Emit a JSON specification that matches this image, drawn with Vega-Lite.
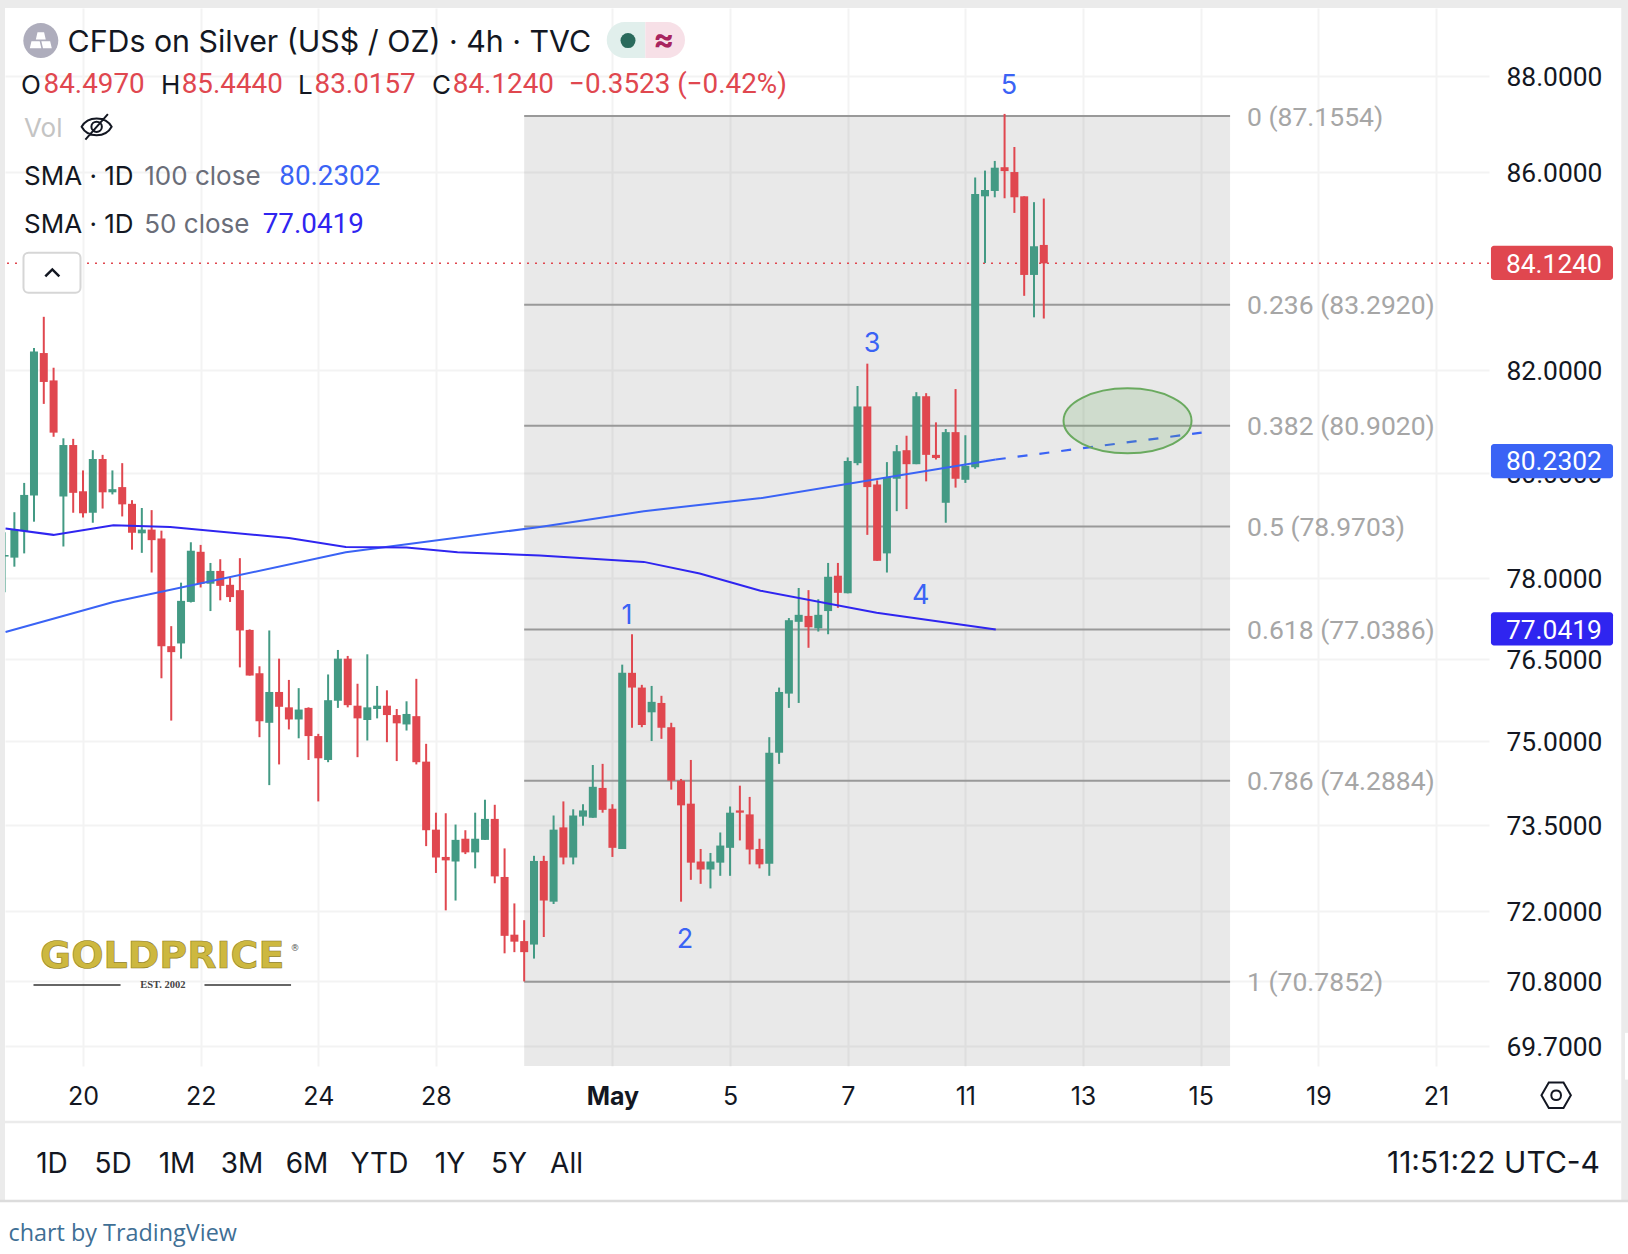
{
"$schema":"https://vega.github.io/schema/vega-lite/v6.json",
"width":1484,"height":1058,"autosize":{"type":"none"},
"padding":{"left":5,"top":8,"right":139,"bottom":188},
"background":"#ffffff",
"view":{"stroke":null},
"resolve":{"axis":{"x":"independent","y":"independent"}},
"datasets":{
"candles":[
{"i":0,"o":78.40,"h":78.86,"l":77.73,"c":78.43},{"i":1,"o":78.38,"h":79.24,"l":78.21,"c":78.91},{"i":2,"o":78.88,"h":79.80,"l":78.46,"c":79.57},{"i":3,"o":79.56,"h":82.43,"l":79.06,"c":82.36},{"i":4,"o":82.33,"h":83.05,"l":81.33,"c":81.76},{"i":5,"o":81.79,"h":82.04,"l":80.69,"c":80.77},{"i":6,"o":79.54,"h":80.66,"l":78.59,"c":80.53},{"i":7,"o":80.53,"h":80.65,"l":79.23,"c":79.61},{"i":8,"o":79.64,"h":80.04,"l":79.14,"c":79.22},{"i":9,"o":79.23,"h":80.43,"l":79.04,"c":80.26},
{"i":10,"o":80.26,"h":80.34,"l":79.31,"c":79.62},{"i":11,"o":79.62,"h":80.04,"l":79.58,"c":79.68},{"i":12,"o":79.72,"h":80.18,"l":79.16,"c":79.39},{"i":13,"o":79.40,"h":79.47,"l":78.53,"c":78.85},{"i":14,"o":78.84,"h":79.32,"l":78.47,"c":78.91},{"i":15,"o":78.91,"h":79.28,"l":78.10,"c":78.71},{"i":16,"o":78.74,"h":78.89,"l":76.14,"c":76.73},{"i":17,"o":76.73,"h":77.10,"l":75.37,"c":76.62},{"i":18,"o":76.78,"h":77.91,"l":76.50,"c":77.57},{"i":19,"o":77.55,"h":78.67,"l":77.54,"c":78.51},
{"i":20,"o":78.49,"h":78.62,"l":77.82,"c":77.89},{"i":21,"o":77.89,"h":78.28,"l":77.38,"c":78.13},{"i":22,"o":78.13,"h":78.35,"l":77.58,"c":77.85},{"i":23,"o":77.87,"h":78.00,"l":77.55,"c":77.64},{"i":24,"o":77.77,"h":78.37,"l":76.34,"c":77.02},{"i":25,"o":77.03,"h":77.04,"l":76.19,"c":76.19},{"i":26,"o":76.23,"h":76.36,"l":75.07,"c":75.36},{"i":27,"o":75.33,"h":77.02,"l":74.21,"c":75.89},{"i":28,"o":75.89,"h":76.50,"l":74.58,"c":75.62},{"i":29,"o":75.61,"h":76.11,"l":75.21,"c":75.39},
{"i":30,"o":75.39,"h":75.96,"l":75.05,"c":75.57},{"i":31,"o":75.60,"h":75.61,"l":74.66,"c":75.09},{"i":32,"o":75.09,"h":75.13,"l":73.92,"c":74.69},{"i":33,"o":74.66,"h":76.21,"l":74.62,"c":75.74},{"i":34,"o":75.73,"h":76.66,"l":75.60,"c":76.50},{"i":35,"o":76.50,"h":76.55,"l":75.61,"c":75.65},{"i":36,"o":75.64,"h":76.04,"l":74.71,"c":75.41},{"i":37,"o":75.38,"h":76.58,"l":75.01,"c":75.61},{"i":38,"o":75.58,"h":76.00,"l":75.41,"c":75.64},{"i":39,"o":75.64,"h":75.92,"l":74.98,"c":75.47},
{"i":40,"o":75.47,"h":75.58,"l":74.64,"c":75.32},{"i":41,"o":75.30,"h":75.72,"l":75.19,"c":75.49},{"i":42,"o":75.45,"h":76.13,"l":74.58,"c":74.62},{"i":43,"o":74.63,"h":74.95,"l":73.13,"c":73.41},{"i":44,"o":73.42,"h":73.72,"l":72.66,"c":72.93},{"i":45,"o":72.94,"h":73.71,"l":72.01,"c":72.88},{"i":46,"o":72.86,"h":73.51,"l":72.18,"c":73.24},{"i":47,"o":73.26,"h":73.41,"l":72.99,"c":73.02},{"i":48,"o":73.02,"h":73.72,"l":72.74,"c":73.26},{"i":49,"o":73.24,"h":73.95,"l":73.24,"c":73.61},
{"i":50,"o":73.61,"h":73.86,"l":72.48,"c":72.60},{"i":51,"o":72.59,"h":73.09,"l":71.27,"c":71.57},{"i":52,"o":71.59,"h":72.13,"l":71.29,"c":71.47},{"i":53,"o":71.48,"h":71.84,"l":70.79,"c":71.29},{"i":54,"o":71.42,"h":72.96,"l":71.18,"c":72.87},{"i":55,"o":72.87,"h":72.96,"l":71.55,"c":72.18},{"i":56,"o":72.16,"h":73.67,"l":72.12,"c":73.42},{"i":57,"o":73.46,"h":73.92,"l":72.81,"c":72.93},{"i":58,"o":72.93,"h":73.78,"l":72.81,"c":73.67},{"i":59,"o":73.65,"h":73.87,"l":73.49,"c":73.76},
{"i":60,"o":73.63,"h":74.57,"l":73.63,"c":74.18},{"i":61,"o":74.16,"h":74.59,"l":73.72,"c":73.77},{"i":62,"o":73.79,"h":73.87,"l":72.94,"c":73.10},{"i":63,"o":73.08,"h":76.39,"l":73.08,"c":76.24},{"i":64,"o":76.24,"h":76.95,"l":75.24,"c":75.97},{"i":65,"o":75.97,"h":76.02,"l":75.25,"c":75.29},{"i":66,"o":75.52,"h":76.00,"l":75.00,"c":75.71},{"i":67,"o":75.69,"h":75.82,"l":75.04,"c":75.24},{"i":68,"o":75.25,"h":75.33,"l":74.13,"c":74.29},{"i":69,"o":74.29,"h":74.32,"l":72.16,"c":73.85},
{"i":70,"o":73.88,"h":74.66,"l":72.54,"c":72.84},{"i":71,"o":72.86,"h":73.08,"l":72.47,"c":72.72},{"i":72,"o":72.72,"h":73.01,"l":72.39,"c":72.86},{"i":73,"o":72.84,"h":73.37,"l":72.61,"c":73.14},{"i":74,"o":73.10,"h":73.83,"l":72.61,"c":73.72},{"i":75,"o":73.76,"h":74.20,"l":73.23,"c":73.72},{"i":76,"o":73.69,"h":74.00,"l":72.81,"c":73.07},{"i":77,"o":73.08,"h":73.26,"l":72.74,"c":72.81},{"i":78,"o":72.82,"h":75.07,"l":72.61,"c":74.79},{"i":79,"o":74.79,"h":75.97,"l":74.59,"c":75.89},
{"i":80,"o":75.86,"h":77.25,"l":75.60,"c":77.21},{"i":81,"o":77.18,"h":77.81,"l":75.69,"c":77.31},{"i":82,"o":77.29,"h":77.77,"l":76.70,"c":77.08},{"i":83,"o":77.06,"h":77.60,"l":77.00,"c":77.31},{"i":84,"o":77.38,"h":78.28,"l":76.95,"c":78.02},{"i":85,"o":78.04,"h":78.28,"l":77.44,"c":77.72},{"i":86,"o":77.71,"h":80.29,"l":77.71,"c":80.22},{"i":87,"o":80.18,"h":81.68,"l":80.14,"c":81.28},{"i":88,"o":81.28,"h":82.12,"l":78.81,"c":79.72},{"i":89,"o":79.77,"h":79.85,"l":78.32,"c":78.32},
{"i":90,"o":78.46,"h":80.20,"l":78.10,"c":79.91},{"i":91,"o":79.88,"h":80.53,"l":79.26,"c":80.41},{"i":92,"o":80.43,"h":80.71,"l":79.30,"c":80.16},{"i":93,"o":80.16,"h":81.56,"l":80.16,"c":81.48},{"i":94,"o":81.48,"h":81.54,"l":79.83,"c":80.34},{"i":95,"o":80.34,"h":80.97,"l":80.25,"c":80.28},{"i":96,"o":79.42,"h":80.84,"l":79.04,"c":80.78},{"i":97,"o":80.78,"h":81.62,"l":79.71,"c":79.88},{"i":98,"o":79.86,"h":80.72,"l":79.80,"c":80.13},{"i":99,"o":80.10,"h":85.88,"l":80.07,"c":85.54},
{"i":100,"o":85.49,"h":86.02,"l":84.13,"c":85.62},{"i":101,"o":85.60,"h":86.22,"l":85.47,"c":86.08},{"i":102,"o":86.09,"h":87.20,"l":85.45,"c":86.01},{"i":103,"o":85.99,"h":86.51,"l":85.15,"c":85.47},{"i":104,"o":85.49,"h":85.49,"l":83.47,"c":83.89},{"i":105,"o":83.89,"h":85.37,"l":83.04,"c":84.47},{"i":106,"o":84.497,"h":85.444,"l":83.0157,"c":84.124}
],
"sma50":[{"i":0.1,"v":78.93},{"i":4.98,"v":78.81},{"i":11.1,"v":78.99},{"i":16.9,"v":78.96},{"i":29,"v":78.75},{"i":34.8,"v":78.58},{"i":41,"v":78.57},{"i":46.2,"v":78.48},{"i":54.6,"v":78.42},{"i":65.2,"v":78.30},{"i":70.9,"v":78.08},{"i":77.1,"v":77.76},{"i":88.95,"v":77.35},{"i":101.1,"v":77.04}],
"sma100":[{"i":0.1,"v":76.99},{"i":11.1,"v":77.55},{"i":34.8,"v":78.48},{"i":54.6,"v":78.96},{"i":65.2,"v":79.26},{"i":77.2,"v":79.51},{"i":101.1,"v":80.25}],
"sma100f":[{"i":101.1,"v":80.25},{"i":122.1,"v":80.77}],
"fib":[{"p":87.1554,"t":"0 (87.1554)"},{"p":83.2920,"t":"0.236 (83.2920)"},{"p":80.9020,"t":"0.382 (80.9020)"},{"p":78.9703,"t":"0.5 (78.9703)"},{"p":77.0386,"t":"0.618 (77.0386)"},{"p":74.2884,"t":"0.786 (74.2884)"},{"p":70.7852,"t":"1 (70.7852)"}]
},
"layer":[
{"data":{"values":[{"a":53,"b":125,"top":87.1554,"bot":69.366}]},"mark":{"type":"rect","fill":"#000000","fillOpacity":0.085},
 "encoding":{"x":{"field":"a","type":"quantitative","scale":{"type":"linear","domain":[0.044,151.41],"nice":false,"zero":false,"padding":0},
   "axis":{"title":null,"values":[8,20,32,44,62,74,86,98,110,122,134,146],"labelExpr":"{8:'20',20:'22',32:'24',44:'28',62:'May',74:'5',86:'7',98:'11',110:'13',122:'15',134:'19',146:'21'}[datum.value]","labelFont":"Inter","labelFontSize":25,"labelColor":"#131722","labelFontWeight":{"condition":{"test":"datum.value==62","value":"bold"},"value":"normal"},"labelPadding":18,"labelOverlap":false,"labelBound":false,"labelFlush":false,"ticks":false,"domain":false,"grid":true,"gridColor":"#f3f3f3","gridWidth":2}},
  "x2":{"field":"b"},
  "y":{"field":"top","type":"quantitative","scale":{"type":"log","domain":[69.366,89.448],"nice":false,"zero":false,"padding":0},
   "axis":{"title":null,"orient":"right","values":[88,86,82,80,78,76.5,75,73.5,72,70.8,69.7],"format":".4f","labelFont":"Roboto","labelFontSize":26.4,"labelColor":"#131722","labelPadding":17,"labelOffset":1.5,"labelOverlap":false,"labelBound":false,"labelFlush":false,"labelAlign":"left","ticks":false,"domain":false,"grid":true,"gridColor":"#f3f3f3","gridWidth":2}},
  "y2":{"field":"bot"}}},
{"data":{"values":[{"a":-0.466,"b":0.044,"t":89.62,"u":67.15},{"a":-0.466,"b":165.6,"t":89.62,"u":89.45},{"a":164.9,"b":165.6,"t":89.62,"u":67.15}]},"mark":{"type":"rect","fill":"#ebebeb","clip":false},
 "encoding":{"x":{"field":"a","type":"quantitative","axis":null},"x2":{"field":"b"},"y":{"field":"t","type":"quantitative","axis":null},"y2":{"field":"u"}}},
{"data":{"values":[{"a":165.28,"b":165.6,"t":69.92,"u":69.14}]},"mark":{"type":"rect","fill":"#ffffff","clip":false},
 "encoding":{"x":{"field":"a","type":"quantitative","axis":null},"x2":{"field":"b"},"y":{"field":"t","type":"quantitative","axis":null},"y2":{"field":"u"}}},
{"data":{"values":[{"a":0.044,"b":164.9,"p":68.44}]},"mark":{"type":"rule","color":"#ebebeb","strokeWidth":2.5,"clip":false},
 "encoding":{"x":{"field":"a","type":"quantitative","axis":null},"x2":{"field":"b"},"y":{"field":"p","type":"quantitative","axis":null}}},
{"data":{"values":[{"a":-0.466,"b":165.6,"p":67.15}]},"mark":{"type":"rule","color":"#dcdcdc","strokeWidth":2.5,"clip":false},
 "encoding":{"x":{"field":"a","type":"quantitative","axis":null},"x2":{"field":"b"},"y":{"field":"p","type":"quantitative","axis":null}}},
{"data":{"values":[{"p":84.124}]},"mark":{"type":"rule","color":"#e0474f","strokeWidth":1.5,"strokeDash":[2,6]},
 "encoding":{"y":{"field":"p","type":"quantitative","axis":null}}},
{"data":{"name":"fib"},"mark":{"type":"rule","color":"#999999","strokeWidth":2},
 "encoding":{"x":{"datum":53,"type":"quantitative","axis":null},"x2":{"datum":125},"y":{"field":"p","type":"quantitative","axis":null}}},
{"data":{"name":"fib"},"mark":{"type":"text","align":"left","baseline":"middle","font":"Roboto","fontSize":26.5,"color":"#a6a6a6","dy":1.5},
 "encoding":{"x":{"datum":126.73,"type":"quantitative","axis":null},"y":{"field":"p","type":"quantitative","axis":null},"text":{"field":"t"}}},
{"data":{"name":"candles"},"mark":{"type":"rule","strokeWidth":2,"clip":true},
 "encoding":{"x":{"field":"i","type":"quantitative","axis":null},"y":{"field":"h","type":"quantitative","axis":null},"y2":{"field":"l"},
  "color":{"condition":{"test":"datum.o<=datum.c","value":"#439a84"},"value":"#e0474f"}}},
{"data":{"name":"candles"},"mark":{"type":"bar","size":8,"clip":true},
 "encoding":{"x":{"field":"i","type":"quantitative","axis":null},"y":{"field":"o","type":"quantitative","axis":null},"y2":{"field":"c"},
  "color":{"condition":{"test":"datum.o<=datum.c","value":"#439a84"},"value":"#e0474f"}}},
{"data":{"name":"sma100"},"mark":{"type":"line","color":"#3a63f5","strokeWidth":2,"clip":true},
 "encoding":{"x":{"field":"i","type":"quantitative","axis":null},"y":{"field":"v","type":"quantitative","axis":null}}},
{"data":{"name":"sma100f"},"mark":{"type":"line","color":"#3a63f5","strokeWidth":2.2,"strokeDash":[10,12]},
 "encoding":{"x":{"field":"i","type":"quantitative","axis":null},"y":{"field":"v","type":"quantitative","axis":null}}},
{"data":{"name":"sma50"},"mark":{"type":"line","color":"#2f25f0","strokeWidth":2,"clip":true},
 "encoding":{"x":{"field":"i","type":"quantitative","axis":null},"y":{"field":"v","type":"quantitative","axis":null}}},
{"data":{"values":[{"x":114.54,"y":81.0}]},"mark":{"type":"point","shape":"M-1 0 A1 0.508 0 1 0 1 0 A1 0.508 0 1 0 -1 0 Z","size":16384,"filled":true,"fill":"#6aaa5f","fillOpacity":0.2,"stroke":"#6aaa5f","strokeWidth":2,"strokeOpacity":1},
 "encoding":{"x":{"field":"x","type":"quantitative","axis":null},"y":{"field":"y","type":"quantitative","axis":null}}},
{"data":{"values":[{"x":63.49,"y":77.32,"t":"1"},{"x":69.4,"y":71.53,"t":"2"},{"x":88.48,"y":82.54,"t":"3"},{"x":93.44,"y":77.69,"t":"4"},{"x":102.45,"y":87.83,"t":"5"}]},"mark":{"type":"text","align":"center","baseline":"middle","font":"Inter","fontSize":27,"color":"#3a63f5","clip":false,"dy":2},
 "encoding":{"x":{"field":"x","type":"quantitative","axis":null},"y":{"field":"y","type":"quantitative","axis":null},"text":{"field":"t"}}},
{"data":{"values":[{"a":151.61,"b":164.06,"t":84.48,"u":83.79,"k":"a"},{"a":151.61,"b":164.06,"t":80.55,"u":79.89,"k":"b"},{"a":151.61,"b":164.06,"t":77.36,"u":76.74,"k":"c"}]},"mark":{"type":"rect","cornerRadius":3,"clip":false},
 "encoding":{"x":{"field":"a","type":"quantitative","axis":null},"x2":{"field":"b"},"y":{"field":"t","type":"quantitative","axis":null},"y2":{"field":"u"},"color":{"field":"k","type":"nominal","legend":null,"scale":{"domain":["a","b","c"],"range":["#e0474f","#3a63f5","#2f25f0"]}}}},
{"data":{"values":[{"x":153.14,"y":84.124,"t":"84.1240"},{"x":153.14,"y":80.2302,"t":"80.2302"},{"x":153.14,"y":77.0419,"t":"77.0419"}]},"mark":{"type":"text","align":"left","baseline":"middle","font":"Roboto","fontSize":26.4,"color":"#ffffff","clip":false,"dy":1.5},
 "encoding":{"x":{"field":"x","type":"quantitative","axis":null},"y":{"field":"y","type":"quantitative","axis":null},"text":{"field":"t"}}},
{"data":{"values":[{"x":3.695,"y":88.75}]},"mark":{"type":"point","shape":"circle","size":1225,"filled":true,"fill":"#aeadbc","opacity":1,"clip":false},
 "encoding":{"x":{"field":"x","type":"quantitative","axis":null},"y":{"field":"y","type":"quantitative","axis":null}}},
{"data":{"values":[{"x":3.695,"y":88.75}]},"mark":{"type":"point","shape":"M-0.45 -0.1 L-0.3 -0.75 L0.3 -0.75 L0.45 -0.1 Z M-1 0.7 L-0.85 0.05 L-0.1 0.05 L0.05 0.7 Z M0.05 0.05 L0.85 0.05 L1 0.7 L0.2 0.7 Z","size":484,"filled":true,"fill":"#ffffff","opacity":1,"clip":false},
 "encoding":{"x":{"field":"x","type":"quantitative","axis":null},"y":{"field":"y","type":"quantitative","axis":null}}},
{"data":{"values":[{"x":6.42,"y":88.75,"t":"CFDs on Silver (US$ / OZ) · 4h · TVC"}]},"mark":{"type":"text","align":"left","baseline":"middle","font":"Inter","fontSize":30.3,"color":"#131722","clip":false,"dy":2},
 "encoding":{"x":{"field":"x","type":"quantitative","axis":null},"y":{"field":"y","type":"quantitative","axis":null},"text":{"field":"t"}}},
{"data":{"values":[{"a":61.42,"b":65.36,"t":89.15,"u":88.38}]},"mark":{"type":"rect","fill":"#e1efec","cornerRadiusTopLeft":18,"cornerRadiusBottomLeft":18,"clip":false},
 "encoding":{"x":{"field":"a","type":"quantitative","axis":null},"x2":{"field":"b"},"y":{"field":"t","type":"quantitative","axis":null},"y2":{"field":"u"}}},
{"data":{"values":[{"a":65.36,"b":69.4,"t":89.15,"u":88.38}]},"mark":{"type":"rect","fill":"#f7e0e7","cornerRadiusTopRight":18,"cornerRadiusBottomRight":18,"clip":false},
 "encoding":{"x":{"field":"a","type":"quantitative","axis":null},"x2":{"field":"b"},"y":{"field":"t","type":"quantitative","axis":null},"y2":{"field":"u"}}},
{"data":{"values":[{"x":63.59,"y":88.75}]},"mark":{"type":"point","shape":"circle","size":225,"filled":true,"fill":"#2a6a5c","opacity":1,"clip":false},
 "encoding":{"x":{"field":"x","type":"quantitative","axis":null},"y":{"field":"y","type":"quantitative","axis":null}}},
{"data":{"values":[{"x":67.23,"y":88.75,"t":"≈"}]},"mark":{"type":"text","align":"center","baseline":"middle","font":"Inter","fontWeight":"bold","fontSize":31,"color":"#a8245e","clip":false},
 "encoding":{"x":{"field":"x","type":"quantitative","axis":null},"y":{"field":"y","type":"quantitative","axis":null},"text":{"field":"t"}}},
{"data":{"values":[{"x":1.676,"y":87.83,"t":"O"},{"x":15.96,"y":87.83,"t":"H"},{"x":29.93,"y":87.83,"t":"L"},{"x":43.6,"y":87.83,"t":"C"},{"x":1.982,"y":85.92,"t":"SMA · 1D"},{"x":1.982,"y":84.94,"t":"SMA · 1D"}]},"mark":{"type":"text","align":"left","baseline":"middle","font":"Inter","fontSize":26,"color":"#131722","clip":false,"dy":2},
 "encoding":{"x":{"field":"x","type":"quantitative","axis":null},"y":{"field":"y","type":"quantitative","axis":null},"text":{"field":"t"}}},
{"data":{"values":[{"x":3.98,"y":87.83,"t":"84.4970"},{"x":18.07,"y":87.83,"t":"85.4440"},{"x":31.62,"y":87.83,"t":"83.0157"},{"x":45.72,"y":87.83,"t":"84.1240"},{"x":57.57,"y":87.83,"t":"−0.3523 (−0.42%)"}]},"mark":{"type":"text","align":"left","baseline":"middle","font":"Roboto","fontSize":27.8,"color":"#e0474f","clip":false,"dy":1.5},
 "encoding":{"x":{"field":"x","type":"quantitative","axis":null},"y":{"field":"y","type":"quantitative","axis":null},"text":{"field":"t"}}},
{"data":{"values":[{"x":1.982,"y":86.93,"t":"Vol"}]},"mark":{"type":"text","align":"left","baseline":"middle","font":"Inter","fontSize":26,"color":"#c4c4c4","clip":false,"dy":2},
 "encoding":{"x":{"field":"x","type":"quantitative","axis":null},"y":{"field":"y","type":"quantitative","axis":null},"text":{"field":"t"}}},
{"data":{"values":[{"x":14.25,"y":85.92,"t":"100 close"},{"x":14.25,"y":84.94,"t":"50 close"}]},"mark":{"type":"text","align":"left","baseline":"middle","font":"Inter","fontSize":26,"color":"#6a6d78","clip":false,"dy":2},
 "encoding":{"x":{"field":"x","type":"quantitative","axis":null},"y":{"field":"y","type":"quantitative","axis":null},"text":{"field":"t"}}},
{"data":{"values":[{"x":28.02,"y":85.92,"t":"80.2302"}]},"mark":{"type":"text","align":"left","baseline":"middle","font":"Roboto","fontSize":27.8,"color":"#3a63f5","clip":false,"dy":1.5},
 "encoding":{"x":{"field":"x","type":"quantitative","axis":null},"y":{"field":"y","type":"quantitative","axis":null},"text":{"field":"t"}}},
{"data":{"values":[{"x":26.33,"y":84.94,"t":"77.0419"}]},"mark":{"type":"text","align":"left","baseline":"middle","font":"Roboto","fontSize":27.8,"color":"#2f25f0","clip":false,"dy":1.5},
 "encoding":{"x":{"field":"x","type":"quantitative","axis":null},"y":{"field":"y","type":"quantitative","axis":null},"text":{"field":"t"}}},
{"data":{"values":[{"x":9.39,"y":86.93}]},"mark":{"type":"point","shape":"M-1 0 C-0.6 -0.75 0.6 -0.75 1 0 C0.6 0.75 -0.6 0.75 -1 0 Z M-0.35 0 C-0.35 -0.45 0.35 -0.45 0.35 0 C0.35 0.45 -0.35 0.45 -0.35 0 Z M-0.75 0.85 L0.75 -0.85","size":900,"filled":false,"stroke":"#131722","strokeWidth":2,"opacity":1,"clip":false},
 "encoding":{"x":{"field":"x","type":"quantitative","axis":null},"y":{"field":"y","type":"quantitative","axis":null}}},
{"data":{"values":[{"a":1.93,"b":7.745,"t":84.34,"u":83.53}]},"mark":{"type":"rect","fill":"#ffffff","stroke":"#d6d6d6","strokeWidth":2,"cornerRadius":5,"clip":false},
 "encoding":{"x":{"field":"a","type":"quantitative","axis":null},"x2":{"field":"b"},"y":{"field":"t","type":"quantitative","axis":null},"y2":{"field":"u"}}},
{"data":{"values":[{"x":4.87,"y":83.93}]},"mark":{"type":"point","shape":"M-1 0.5 L0 -0.5 L1 0.5","size":196,"filled":false,"stroke":"#131722","strokeWidth":2.5,"opacity":1,"clip":false},
 "encoding":{"x":{"field":"x","type":"quantitative","axis":null},"y":{"field":"y","type":"quantitative","axis":null}}},
{"data":{"values":[{"x":16.08,"y":71.21,"t":"GOLDPRICE"}]},"mark":{"type":"text","align":"center","baseline":"middle","font":"DejaVu Sans","fontWeight":"bold","fontSize":38,"color":"#cdb83f","stroke":"#8f7d20","strokeWidth":0.6,"clip":false},
 "encoding":{"x":{"field":"x","type":"quantitative","axis":null},"y":{"field":"y","type":"quantitative","axis":null},"text":{"field":"t"}}},
{"data":{"values":[{"x":29.62,"y":71.36,"t":"®"}]},"mark":{"type":"text","align":"center","baseline":"middle","font":"DejaVu Sans","fontSize":9,"color":"#555555","clip":false},
 "encoding":{"x":{"field":"x","type":"quantitative","axis":null},"y":{"field":"y","type":"quantitative","axis":null},"text":{"field":"t"}}},
{"data":{"values":[{"x":16.14,"y":70.73,"t":"EST. 2002"}]},"mark":{"type":"text","align":"center","baseline":"middle","font":"Liberation Serif","fontWeight":"bold","fontSize":10.5,"color":"#444444","clip":false},
 "encoding":{"x":{"field":"x","type":"quantitative","axis":null},"y":{"field":"y","type":"quantitative","axis":null},"text":{"field":"t"}}},
{"data":{"values":[{"a":2.95,"b":11.83,"p":70.73},{"a":20.39,"b":29.22,"p":70.73}]},"mark":{"type":"rule","color":"#333333","strokeWidth":1.5,"clip":false},
 "encoding":{"x":{"field":"a","type":"quantitative","axis":null},"x2":{"field":"b"},"y":{"field":"p","type":"quantitative","axis":null}}},
{"data":{"values":[{"x":4.84,"t":"1D"},{"x":11.06,"t":"5D"},{"x":17.59,"t":"1M"},{"x":24.22,"t":"3M"},{"x":30.85,"t":"6M"},{"x":38.24,"t":"YTD"},{"x":45.43,"t":"1Y"},{"x":51.45,"t":"5Y"},{"x":57.32,"t":"All"}]},"mark":{"type":"text","align":"center","baseline":"middle","font":"Inter","fontSize":28,"color":"#131722","clip":false,"dy":2},
 "encoding":{"x":{"field":"x","type":"quantitative","axis":null},"y":{"datum":67.77,"type":"quantitative","axis":null},"text":{"field":"t"}}},
{"data":{"values":[{"x":162.73,"y":67.77,"t":"11:51:22 UTC-4"}]},"mark":{"type":"text","align":"right","baseline":"middle","font":"Inter","fontSize":30,"color":"#131722","clip":false,"dy":1},
 "encoding":{"x":{"field":"x","type":"quantitative","axis":null},"y":{"field":"y","type":"quantitative","axis":null},"text":{"field":"t"}}},
{"data":{"values":[{"x":0.4,"y":66.66,"t":"chart by TradingView"}]},"mark":{"type":"text","align":"left","baseline":"middle","font":"Open Sans","fontSize":23.4,"color":"#3f6f95","clip":false,"dy":2},
 "encoding":{"x":{"field":"x","type":"quantitative","axis":null},"y":{"field":"y","type":"quantitative","axis":null},"text":{"field":"t"}}},
{"data":{"values":[{"x":158.26,"y":68.88}]},"mark":{"type":"point","shape":"M-1 0 L-0.5 -0.87 L0.5 -0.87 L1 0 L0.5 0.87 L-0.5 0.87 Z M-0.33 0 C-0.33 -0.44 0.33 -0.44 0.33 0 C0.33 0.44 -0.33 0.44 -0.33 0 Z","size":864,"filled":false,"stroke":"#131722","strokeWidth":2,"opacity":1,"clip":false},
 "encoding":{"x":{"field":"x","type":"quantitative","axis":null},"y":{"field":"y","type":"quantitative","axis":null}}}
]
}
